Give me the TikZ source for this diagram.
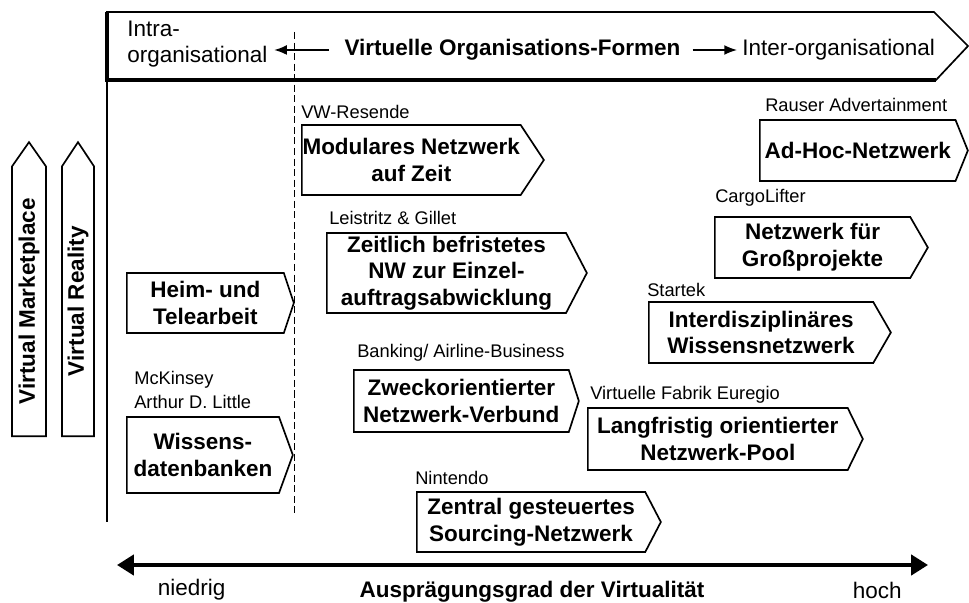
\documentclass[tikz,border=0pt]{standalone}
\usepackage{fontspec}
\setmainfont{Liberation Sans}
\usetikzlibrary{shapes.symbols}
\usetikzlibrary{arrows.meta}

\tikzset{
	orgform/.style={signal, signal to=east, draw, line width=1.2pt, align=center, anchor=west,
		inner xsep=0pt, inner ysep=0pt, font=\fontsize{16}{19}\selectfont\bfseries},
	firm/.style={anchor=west, inner sep=0pt, align=left, font=\fontsize{13}{17}\selectfont},
	medium/.style={signal, signal to=east, draw, line width=1.2pt, rotate=90, anchor=west, inner sep=0pt,
		font=\fontsize{16}{19}\selectfont\bfseries},
	headtext/.style={inner sep=0pt, font=\fontsize{16}{18}\selectfont}
}

\begin{document}
\begin{tikzpicture}
	\useasboundingbox (0,0) rectangle (24.225,-15.075);
	
	\draw[line width=1.2pt] (2.675,-0.3) -- (23.35,-0.3) -- (24.2,-1.15) -- (23.4,-2.0) -- (2.675,-2.0) -- cycle;
	\draw[line width=2.5pt] (2.675,-0.3) -- (2.675,-2.0) -- (23.4,-2.0);
	\draw[line width=1.5pt] (2.675,-2.0) -- (2.675,-13.05);
	\draw[dash pattern=on 5pt off 2.5pt, line width=0.7pt] (7.35,-0.8) -- (7.35,-12.825);
	
	\node[headtext, anchor=west, align=left] (intra) at (3.175,-1.1) {Intra-\\organisational};
	\node[headtext, font=\fontsize{16}{18}\selectfont\bfseries] (vof) at (12.81,-1.25) {Virtuelle Organisations-Formen};
	\node[headtext, anchor=west] (inter) at (18.55,-1.25) {Inter-organisational};
	\draw[line width=1pt, -{Latex[length=9pt,width=7pt]}] ([xshift=-0.375cm]vof.west) -- ([xshift=-1.75cm]vof.west);
	\draw[line width=1pt, -{Latex[length=9pt,width=7pt]}] ([xshift=0.3cm]vof.east) -- ([xshift=-0.125cm]inter.west);
	
	\node[medium, minimum width=7.35cm, minimum height=0.85cm, signal pointer angle=70] (market) at (0.725,-10.925) {Virtual Marketplace};
	\node[medium, minimum width=7.35cm, minimum height=0.8cm, signal pointer angle=67] (reality) at (1.95,-10.925) {Virtual Reality};
	
	\node[orgform, minimum width=4.175cm, minimum height=1.5cm, signal pointer angle=143] (heim) at (3.15,-7.575) {Heim- und\\Telearbeit};
	\node[orgform, minimum width=4.15cm, minimum height=1.9cm, signal pointer angle=140] (wissen) at (3.15,-11.375) {Wissens-\\datenbanken};
	\node[orgform, minimum width=6.05cm, minimum height=1.75cm, signal pointer angle=113] (modular) at (7.525,-4.0) {Modulares Netzwerk\\auf Zeit};
	\node[orgform, minimum width=6.5cm, minimum height=2.0cm, signal pointer angle=125] (befristet) at (8.15,-6.825) {Zeitlich befristetes\\NW zur Einzel-\\auftragsabwicklung};
	\node[orgform, minimum width=5.625cm, minimum height=1.55cm, signal pointer angle=144] (zweck) at (8.825,-10.025) {Zweckorientierter\\Netzwerk-Verbund};
	\node[orgform, minimum width=6.1cm, minimum height=1.5cm, signal pointer angle=125] (zentral) at (10.4,-13.05) {Zentral gesteuertes\\Sourcing-Netzwerk};
	\node[orgform, minimum width=5.2cm, minimum height=1.525cm, signal pointer angle=136] (adhoc) at (18.975,-3.7625) {Ad-Hoc-Netzwerk};
	\node[orgform, minimum width=5.325cm, minimum height=1.525cm, signal pointer angle=120] (gross) at (17.85,-6.1875) {Netzwerk für\\Großprojekte};
	\node[orgform, minimum width=6.05cm, minimum height=1.525cm, signal pointer angle=120] (wissnetz) at (16.2,-8.3125) {Interdisziplinäres\\Wissensnetzwerk};
	\node[orgform, minimum width=6.875cm, minimum height=1.55cm, signal pointer angle=128] (pool) at (14.675,-10.975) {Langfristig orientierter\\Netzwerk-Pool};
	
	\node[firm] (vw) at (7.525,-2.8) {VW-Resende};
	\node[firm] (leistritz) at (8.225,-5.45) {Leistritz \& Gillet};
	\node[firm] (banking) at (8.925,-8.825) {Banking/ Airline-Business};
	\node[firm] (nintendo) at (10.375,-11.95) {Nintendo};
	\node[firm] (mckinsey) at (3.35,-9.75) {McKinsey\\Arthur D. Little};
	\node[firm] (rauser) at (19.125,-2.625) {Rauser Advertainment};
	\node[firm] (cargo) at (17.875,-4.95) {CargoLifter};
	\node[firm] (startek) at (16.175,-7.25) {Startek};
	\node[firm] (euregio) at (14.75,-9.875) {Virtuelle Fabrik Euregio};
	
	\coordinate (low) at (2.925,-14.125);
	\coordinate (high) at (23.2,-14.125);
	\draw[line width=2.8pt, {Triangle[length=0.42cm,width=0.5cm]}-{Triangle[length=0.42cm,width=0.5cm]}] (low) -- (high);
	\node[headtext] (niedrig) at (4.79,-14.75) {niedrig};
	\node[headtext] (hoch) at (21.93,-14.75) {hoch};
	\node[headtext, font=\fontsize{16}{18}\selectfont\bfseries] (grad) at (13.3,-14.8) {Ausprägungsgrad der Virtualität};
\end{tikzpicture}
\end{document}
